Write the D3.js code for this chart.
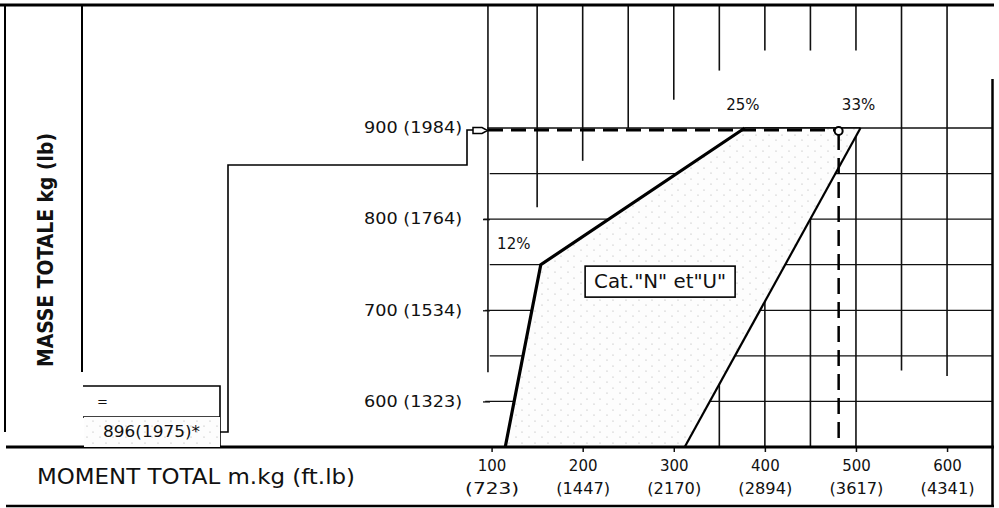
<!DOCTYPE html>
<html>
<head>
<meta charset="utf-8">
<script src="https://cdn.jsdelivr.net/npm/d3@7"></script>
<style>
  body { margin: 0; background: #fff; }
  text { font-family: "DejaVu Sans", sans-serif; fill: #111; }
</style>
</head>
<body>
<svg id="chart" width="999" height="508"></svg>
<script>
// mass (kg) ticks with their lb equivalents
var massTicks = [600, 700, 800, 900];
var massLb = [1323, 1534, 1764, 1984];
// moment (m.kg) ticks with ft.lb equivalents
var momentTicks = [100, 200, 300, 400, 500, 600];
var momentFtLb = [723, 1447, 2170, 2894, 3617, 4341];

// horizontal grid: [kg, moment start]
var hGrid = [[600, 93], [650, 98], [700, 93], [750, 98], [800, 91], [850, 98], [900, 95]];
// vertical grid segments: [moment, kg from, kg to]
var vGrid = [
    [96, 632, 1035], [150, 813, 1035], [200, 864, 1035], [250, 900, 1035],
    [300, 931, 1035], [350, 963, 1035], [350, 550, 622], [400, 985, 1035],
    [400, 550, 711], [450, 985, 1035], [450, 550, 801], [500, 985, 1035],
    [500, 550, 890], [550, 634, 1035], [600, 628, 1035]
];

// category N / U envelope [moment, mass]
var envelope = [[115, 550], [154, 750], [378, 900], [505, 900], [312, 550]];
var envLabels = [["12%", 154, 750], ["25%", 378, 900], ["33%", 505, 900]];

// loaded example point
var loadMass = 900;
var loadMoment = 481;
var emptyMass = "896(1975)*";

var svg = d3.select("#chart");
var x = d3.scaleLinear().domain([0, 650]).range([400.5, 992.6]);
var y = d3.scaleLinear().domain([550, 900]).range([447, 128]);

// stipple fill
var pat = svg.append("defs").append("pattern")
    .attr("id", "dots").attr("width", 13).attr("height", 11)
    .attr("patternUnits", "userSpaceOnUse");
pat.append("rect").attr("width", 13).attr("height", 11).attr("fill", "#fdfdfd");
[[2, 3], [9, 8]].forEach(function (p) {
    pat.append("circle").attr("cx", p[0]).attr("cy", p[1]).attr("r", 0.6).attr("fill", "#aaa");
});

// grid
svg.append("g").selectAll("line").data(hGrid).enter().append("line")
    .attr("x1", function (d) { return x(d[1]); })
    .attr("x2", x(650))
    .attr("y1", function (d) { return y(d[0]); })
    .attr("y2", function (d) { return y(d[0]); })
    .attr("stroke", "#111").attr("stroke-width", 1.3);

svg.append("g").selectAll("line").data(vGrid).enter().append("line")
    .attr("x1", function (d) { return x(d[0]); })
    .attr("x2", function (d) { return x(d[0]); })
    .attr("y1", function (d) { return y(d[1]); })
    .attr("y2", function (d) { return y(d[2]); })
    .attr("stroke", "#111").attr("stroke-width", 1.6);

// envelope
var edge = d3.line().x(function (d) { return x(d[0]); }).y(function (d) { return y(d[1]); });
svg.append("path")
    .attr("d", edge(envelope) + "Z")
    .attr("fill", "url(#dots)").attr("stroke", "none");

svg.append("path").attr("d", edge(envelope.slice(0, 3)))
    .attr("fill", "none").attr("stroke", "#000").attr("stroke-width", 3.2);
svg.append("path").attr("d", edge(envelope.slice(2, 4)))
    .attr("fill", "none").attr("stroke", "#000").attr("stroke-width", 1.6);
svg.append("path").attr("d", edge(envelope.slice(3, 5)))
    .attr("fill", "none").attr("stroke", "#000").attr("stroke-width", 2.2);

svg.append("g").selectAll("text").data(envLabels).enter().append("text")
    .attr("x", function (d, i) { return i === 0 ? x(d[1]) - 27 : x(d[1]) - 2; })
    .attr("y", function (d, i) { return i === 0 ? y(d[2]) - 16 : y(d[2]) - 18; })
    .attr("text-anchor", "middle")
    .attr("font-size", 15)
    .text(function (d) { return d[0]; });

// category label box
var cat = svg.append("g").attr("transform", "translate(" + x(285) + "," + y(732) + ")");
cat.append("rect").attr("x", -75).attr("y", -15).attr("width", 150).attr("height", 31)
    .attr("fill", "#fff").attr("stroke", "#000").attr("stroke-width", 1.6);
cat.append("text").attr("text-anchor", "middle").attr("dominant-baseline", "central")
    .attr("font-size", 20).attr("textLength", 132).attr("lengthAdjust", "spacingAndGlyphs")
    .text("Cat.\"N\" et\"U\"");

// dashed loading lines
svg.append("line")
    .attr("x1", 488).attr("x2", x(loadMoment))
    .attr("y1", y(loadMass) + 2).attr("y2", y(loadMass) + 2)
    .attr("stroke", "#000").attr("stroke-width", 3).attr("stroke-dasharray", "15,8");
svg.append("line")
    .attr("x1", x(loadMoment)).attr("x2", x(loadMoment))
    .attr("y1", y(loadMass) + 6).attr("y2", y(550))
    .attr("stroke", "#000").attr("stroke-width", 2.5).attr("stroke-dasharray", "16,8");
svg.append("circle").attr("cx", x(loadMoment)).attr("cy", y(loadMass) + 3).attr("r", 4)
    .attr("fill", "#fff").attr("stroke", "#000").attr("stroke-width", 2);

// y axis
var yAxis = svg.append("g").attr("transform", "translate(490,0)")
    .call(d3.axisLeft(y).tickValues(massTicks).tickSize(7)
        .tickFormat(function (d, i) { return d + " (" + massLb[i] + ")"; }));
yAxis.select(".domain").remove();
yAxis.selectAll("line").attr("stroke", "#111").attr("stroke-width", 1.3)
    .attr("opacity", function (d) { return d === 900 ? 0 : 1; });
yAxis.selectAll("text").attr("x", -28).attr("font-size", 15).attr("fill", "#111")
    .attr("font-family", "DejaVu Sans, sans-serif")
    .attr("textLength", 98).attr("lengthAdjust", "spacingAndGlyphs");

// x axis
var xAxis = svg.append("g").attr("transform", "translate(0," + y(550) + ")")
    .call(d3.axisBottom(x).tickValues(momentTicks).tickSize(5).tickFormat(d3.format("d")));
xAxis.select(".domain").remove();
xAxis.selectAll("line").attr("stroke", "#111").attr("stroke-width", 1.5);
xAxis.selectAll("text").attr("y", 14).attr("font-size", 15).attr("fill", "#111")
    .attr("font-family", "DejaVu Sans, sans-serif");
xAxis.selectAll(".tick").append("text")
    .attr("y", 36).attr("dy", "0.71em").attr("text-anchor", "middle")
    .attr("font-size", 15).attr("fill", "#111")
    .attr("textLength", 54).attr("lengthAdjust", "spacingAndGlyphs")
    .text(function (d, i) { return "(" + momentFtLb[i] + ")"; });
xAxis.selectAll(".tick text").filter(function () { return !this.getAttribute("textLength"); })
    .attr("dy", "0.71em").attr("y", 13);

// frame
var frame = svg.append("g").attr("stroke", "#000").attr("fill", "none");
frame.append("line").attr("x1", 0).attr("x2", 994).attr("y1", 5).attr("y2", 5).attr("stroke-width", 3);
frame.append("line").attr("x1", 5).attr("x2", 5).attr("y1", 5).attr("y2", 432).attr("stroke-width", 2);
frame.append("line").attr("x1", 82).attr("x2", 82).attr("y1", 5).attr("y2", 372).attr("stroke-width", 2);
frame.append("line").attr("x1", 6).attr("x2", 994).attr("y1", y(550)).attr("y2", y(550)).attr("stroke-width", 3);
frame.append("line").attr("x1", 6).attr("x2", 994).attr("y1", 506).attr("y2", 506).attr("stroke-width", 2.5);
frame.append("line").attr("x1", 992.5).attr("x2", 992.5).attr("y1", 79).attr("y2", 506).attr("stroke-width", 2.5);

// empty-mass box and connector
svg.append("rect").attr("x", 84).attr("y", 417).attr("width", 136).attr("height", 30).attr("fill", "url(#dots)");
frame.append("path").attr("d", "M83,386H220V447").attr("stroke-width", 1.6);
frame.append("path").attr("d", "M83,417H220").attr("stroke-width", 1.6);
frame.append("path").attr("d", "M220,432H228V165H467V130H473").attr("stroke-width", 1.6);
svg.append("path").attr("d", "M473,127.5H482L487.5,130.5L482,133.5H473Z")
    .attr("fill", "#fff").attr("stroke", "#000").attr("stroke-width", 1.5);
svg.append("text").attr("x", 97).attr("y", 401).attr("dominant-baseline", "central")
    .attr("font-size", 13).text("=");
svg.append("text").attr("x", 103).attr("y", 432).attr("dominant-baseline", "central")
    .attr("font-size", 15).attr("textLength", 97).attr("lengthAdjust", "spacingAndGlyphs")
    .text(emptyMass);

// axis titles
svg.append("text").attr("transform", "translate(45,250) rotate(-90)")
    .attr("text-anchor", "middle").attr("dominant-baseline", "central")
    .attr("font-size", 22).attr("font-weight", "bold")
    .attr("textLength", 234).attr("lengthAdjust", "spacingAndGlyphs")
    .text("MASSE TOTALE kg (lb)");
svg.append("text").attr("x", 37).attr("y", 476).attr("dominant-baseline", "central")
    .attr("font-size", 22)
    .attr("textLength", 318).attr("lengthAdjust", "spacingAndGlyphs")
    .text("MOMENT TOTAL m.kg (ft.lb)");
</script>
</body>
</html>
